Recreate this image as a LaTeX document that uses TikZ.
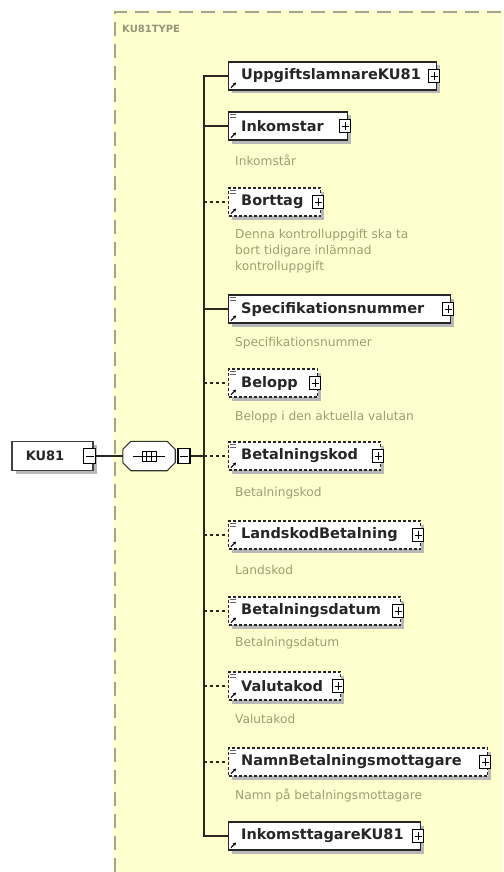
\documentclass[tikz,border=0pt]{standalone}
\usepackage{fontspec}
\setmainfont{DejaVu Sans}
\usetikzlibrary{shadows,arrows.meta}
\definecolor{bgyellow}{RGB}{255,255,206}
\definecolor{descgray}{RGB}{158,158,118}
\definecolor{titlegray}{RGB}{150,150,120}
\definecolor{bordergray}{RGB}{165,165,150}
\definecolor{linedark}{RGB}{40,40,30}
\tikzset{
  boxshadow/.style={drop shadow={shadow xshift=3.5pt, shadow yshift=-3.5pt, fill=black!28, opacity=1}},
  elembox/.style={draw=black!85, line width=1.1pt, fill=white, minimum height=28pt, inner sep=0pt, anchor=west, boxshadow},
  optbox/.style={elembox, dash pattern=on 3pt off 2pt},
  elemlabel/.style={font=\fontsize{14.5}{16}\bfseries\selectfont, text=black!85, inner sep=0pt, anchor=west},
  desc/.style={font=\fontsize{12.2}{16}\selectfont, text=descgray, inner sep=0pt, anchor=west, align=left},
  plusbox/.style={draw=black, line width=1pt, fill=white, minimum width=11pt, minimum height=13pt, inner sep=0pt,
    path picture={\draw[line width=0.9pt] ([xshift=-3.5pt]path picture bounding box.center) -- ([xshift=3.5pt]path picture bounding box.center);
      \draw[line width=0.9pt] ([yshift=-4pt]path picture bounding box.center) -- ([yshift=4pt]path picture bounding box.center);}},
  minusbox/.style={draw=black, line width=1.1pt, fill=white, minimum width=12pt, minimum height=15pt, inner sep=0pt,
    path picture={\draw[line width=1pt] ([xshift=-4pt]path picture bounding box.center) -- ([xshift=4pt]path picture bounding box.center);}},
  conn/.style={draw=linedark, line width=1.4pt},
  optconn/.style={conn, dash pattern=on 3pt off 3pt},
  arricon/.style={line width=1pt, -{Stealth[length=3pt,width=3.5pt]}},
  docicon/.style={draw=black!60, line width=0.8pt},
}
\newcommand{\arrowicon}[1]{\draw[arricon] ([xshift=3pt,yshift=3pt]#1.south west) -- ++(5pt,5pt);}
\newcommand{\docicon}[1]{\draw[docicon] ([xshift=2pt,yshift=-3pt]#1.north west) -- ++(6pt,0pt);
  \draw[docicon] ([xshift=2pt,yshift=-5.5pt]#1.north west) -- ++(6pt,0pt);}
\newcommand{\octpath}[1]{([xshift=8pt]#1.north west) -- ([xshift=-8pt]#1.north east) -- ([yshift=-8pt]#1.north east) -- ([yshift=8pt]#1.south east) -- ([xshift=-8pt]#1.south east) -- ([xshift=8pt]#1.south west) -- ([yshift=8pt]#1.south west) -- ([yshift=-8pt]#1.north west) -- cycle}
\begin{document}
\begin{tikzpicture}[x=1pt,y=-1pt]
\useasboundingbox (0,0) rectangle (503,872);
% background
\fill[bgyellow] (113,10) rectangle (503,872);
\draw[bordergray, line width=1.2pt, dash pattern=on 14pt off 8pt] (115,872) -- (115,12) -- (503,12);
\node[font=\fontsize{10}{12}\bfseries\selectfont, text=titlegray, anchor=west, inner sep=0pt] (title) at (122,29) {KU81TYPE};

% root element
\node[draw=black!75, line width=1.1pt, fill=white, minimum width=81pt, minimum height=29pt, inner sep=0pt, boxshadow] (root) at (52.5,456) {};
\node[font=\fontsize{13}{15}\bfseries\selectfont, text=black!85, inner sep=0pt] (rootL) at (45,456) {KU81};
\node[minusbox] (rootM) at (89.5,456) {};

% sequence compositor
\node[minimum width=52pt, minimum height=29pt, inner sep=0pt] (seq) at (149,456) {};
\fill[black!28, shift={(3.5pt,-3.5pt)}] \octpath{seq};
\filldraw[draw=black!80, fill=white, line width=1.1pt] \octpath{seq};
\draw[line width=1pt] ([xshift=-16pt]seq.center) -- ([xshift=16pt]seq.center);
\draw[line width=1pt] ([xshift=-7pt,yshift=-5pt]seq.center) rectangle ([xshift=7pt,yshift=5pt]seq.center);
\draw[line width=1pt] ([xshift=-2.3pt,yshift=-5pt]seq.center) -- ([xshift=-2.3pt,yshift=5pt]seq.center);
\draw[line width=1pt] ([xshift=2.3pt,yshift=-5pt]seq.center) -- ([xshift=2.3pt,yshift=5pt]seq.center);
\node[minusbox] (seqM) at (184,456) {};

\coordinate (trunk) at (204,0);

% elements
\node[elembox, minimum width=208pt] (upp) at (228,76) {};
\node[elemlabel] (uppL) at ([xshift=13pt]upp.west) {UppgiftslamnareKU81};
\node[plusbox] (uppP) at ([xshift=-3pt]upp.east) {};
\arrowicon{upp}

\node[elembox, minimum width=119pt] (ink) at (228,126) {};
\node[elemlabel] (inkL) at ([xshift=13pt]ink.west) {Inkomstar};
\node[plusbox] (inkP) at ([xshift=-3pt]ink.east) {};
\arrowicon{ink}\docicon{ink}
\node[desc] (inkD) at (235,160) {Inkomstår};

\node[optbox, minimum width=92pt] (bort) at (228,202) {};
\node[elemlabel] (bortL) at ([xshift=13pt]bort.west) {Borttag};
\node[plusbox] (bortP) at ([xshift=-3pt]bort.east) {};
\arrowicon{bort}\docicon{bort}
\node[desc] (bortD) at (235,251) {Denna kontrolluppgift ska ta\\bort tidigare inlämnad\\kontrolluppgift};

\node[elembox, minimum width=222pt] (spec) at (228,309) {};
\node[elemlabel] (specL) at ([xshift=13pt]spec.west) {Specifikationsnummer};
\node[plusbox] (specP) at ([xshift=-3pt]spec.east) {};
\arrowicon{spec}\docicon{spec}
\node[desc] (specD) at (235,343) {Specifikationsnummer};

\node[optbox, minimum width=89pt] (bel) at (228,383) {};
\node[elemlabel] (belL) at ([xshift=13pt]bel.west) {Belopp};
\node[plusbox] (belP) at ([xshift=-3pt]bel.east) {};
\arrowicon{bel}\docicon{bel}
\node[desc] (belD) at (235,417) {Belopp i den aktuella valutan};

\node[optbox, minimum width=152pt] (bk) at (228,456) {};
\node[elemlabel] (bkL) at ([xshift=13pt]bk.west) {Betalningskod};
\node[plusbox] (bkP) at ([xshift=-3pt]bk.east) {};
\arrowicon{bk}\docicon{bk}
\node[desc] (bkD) at (235,493) {Betalningskod};

\node[optbox, minimum width=192pt] (land) at (228,535) {};
\node[elemlabel] (landL) at ([xshift=13pt]land.west) {LandskodBetalning};
\node[plusbox] (landP) at ([xshift=-3pt]land.east) {};
\arrowicon{land}\docicon{land}
\node[desc] (landD) at (235,570) {Landskod};

\node[optbox, minimum width=172pt] (bd) at (228,611) {};
\node[elemlabel] (bdL) at ([xshift=13pt]bd.west) {Betalningsdatum};
\node[plusbox] (bdP) at ([xshift=-3pt]bd.east) {};
\arrowicon{bd}\docicon{bd}
\node[desc] (bdD) at (235,643) {Betalningsdatum};

\node[optbox, minimum width=112pt] (val) at (228,686) {};
\node[elemlabel] (valL) at ([xshift=13pt]val.west) {Valutakod};
\node[plusbox] (valP) at ([xshift=-3pt]val.east) {};
\arrowicon{val}\docicon{val}
\node[desc] (valD) at (235,719) {Valutakod};

\node[optbox, minimum width=259pt] (namn) at (228,762) {};
\node[elemlabel] (namnL) at ([xshift=13pt]namn.west) {NamnBetalningsmottagare};
\node[plusbox] (namnP) at ([xshift=-3pt]namn.east) {};
\arrowicon{namn}\docicon{namn}
\node[desc] (namnD) at (235,795) {Namn på betalningsmottagare};

\node[elembox, minimum width=192pt] (inkt) at (228,836) {};
\node[elemlabel] (inktL) at ([xshift=13pt]inkt.west) {InkomsttagareKU81};
\node[plusbox] (inktP) at ([xshift=-3pt]inkt.east) {};
\arrowicon{inkt}

% connectors
\draw[conn] (rootM.east) -- (seq.west);
\draw[conn] (seqM.east) -- (seqM.east -| trunk);
\draw[conn] (upp.west) -- (upp.west -| trunk) -- (inkt.west -| trunk) -- (inkt.west);
\draw[conn] (ink.west -| trunk) -- (ink.west);
\draw[conn] (spec.west -| trunk) -- (spec.west);
\draw[optconn] (bort.west -| trunk) -- (bort.west);
\draw[optconn] (bel.west -| trunk) -- (bel.west);
\draw[optconn] (bk.west -| trunk) -- (bk.west);
\draw[optconn] (land.west -| trunk) -- (land.west);
\draw[optconn] (bd.west -| trunk) -- (bd.west);
\draw[optconn] (val.west -| trunk) -- (val.west);
\draw[optconn] (namn.west -| trunk) -- (namn.west);
\end{tikzpicture}
\end{document}
